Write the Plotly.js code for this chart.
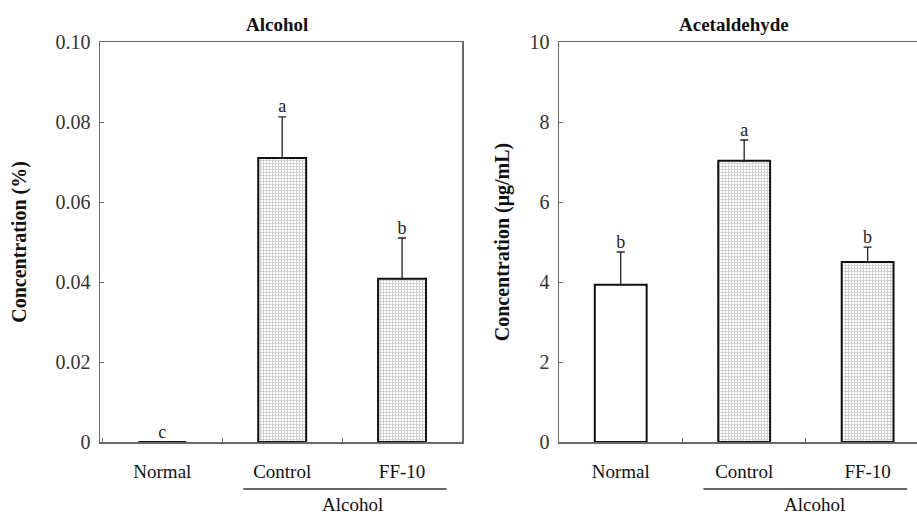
<!DOCTYPE html>
<html>
<head>
<meta charset="utf-8">
<script src="https://cdn.plot.ly/plotly-3.0.1.min.js"></script>
<style>html,body{margin:0;padding:0;background:#fff;}#chart{width:917px;height:515px;}</style>
</head>
<body>
<div id="chart"></div>
<script>
// Data
const categories = ["Normal", "Control", "FF-10"];
const alcoholValues = [0, 0.071, 0.0408];
const alcoholErrors = [0, 0.0103, 0.0102];
const alcoholLetters = ["c", "a", "b"];
const acetValues = [3.93, 7.03, 4.5];
const acetErrors = [0.82, 0.52, 0.37];
const acetLetters = ["b", "a", "b"];
const groupLabel = "Alcohol";
const titleLeft = "Alcohol";
const titleRight = "Acetaldehyde";
const yTitleLeft = "Concentration (%)";
const yTitleRight = "Concentration (μg/mL)";

const serif = "'Liberation Serif'";
const axisColor = "#6a6a6a";
const fills = ["#ffffff", "#cccccc", "#cccccc"];
const pat = {shape: ["", "+", "+"], fgcolor: "#777777", bgcolor: "#dedede", size: 3, solidity: 0.5};

function tops(v, e) { return v.map((x, i) => x + e[i]); }

const traces = [
  {
    type: "bar", x: categories, y: alcoholValues, xaxis: "x", yaxis: "y", width: 0.4,
    marker: {color: fills, line: {color: "#111", width: 2}, pattern: pat},
    error_y: {type: "data", array: alcoholErrors, arrayminus: [0, 0, 0], symmetric: false, color: "#222", thickness: 1.3, width: 4},
    showlegend: false, hoverinfo: "none"
  },
  {
    type: "scatter", mode: "text", x: categories, y: tops(alcoholValues, alcoholErrors), text: alcoholLetters,
    textposition: "top center", textfont: {family: serif, size: 18, color: "#222"},
    xaxis: "x", yaxis: "y", showlegend: false, hoverinfo: "none", cliponaxis: false
  },
  {
    type: "bar", x: categories, y: acetValues, xaxis: "x2", yaxis: "y2", width: 0.42,
    marker: {color: fills, line: {color: "#111", width: 2}, pattern: pat},
    error_y: {type: "data", array: acetErrors, arrayminus: [0, 0, 0], symmetric: false, color: "#222", thickness: 1.3, width: 4},
    showlegend: false, hoverinfo: "none"
  },
  {
    type: "scatter", mode: "text", x: categories, y: tops(acetValues, acetErrors), text: acetLetters,
    textposition: "top center", textfont: {family: serif, size: 18, color: "#222"},
    xaxis: "x2", yaxis: "y2", showlegend: false, hoverinfo: "none", cliponaxis: false
  }
];

const yDom = [73/515, 473/515];
const xCommon = {
  type: "category", showgrid: false, zeroline: false, showline: true, linecolor: axisColor, linewidth: 1.5,
  ticks: "inside", tickson: "boundaries", ticklen: 4, tickcolor: axisColor,
  tickfont: {family: serif, size: 19, color: "#111"}, ticklabelstandoff: 12, fixedrange: true
};
const yCommon = {
  showgrid: false, zeroline: false, showline: true, linecolor: axisColor, linewidth: 1.5,
  ticks: "inside", ticklen: 4, tickcolor: axisColor, ticklabelstandoff: 4,
  tickfont: {family: serif, size: 20, color: "#333"}, fixedrange: true
};

const layout = {
  width: 917, height: 515, margin: {l: 0, r: 0, t: 0, b: 0},
  paper_bgcolor: "#fff", plot_bgcolor: "#fff",
  xaxis: Object.assign({}, xCommon, {domain: [100/917, 462/917], range: [-0.52, 2.5], mirror: true, anchor: "y"}),
  yaxis: Object.assign({}, yCommon, {domain: yDom, range: [0, 0.1], tickvals: [0, 0.02, 0.04, 0.06, 0.08, 0.1],
    ticktext: ["0", "0.02", "0.04", "0.06", "0.08", "0.10"], mirror: true, anchor: "x",
    title: {text: yTitleLeft, font: {family: serif, size: 20, color: "#111", weight: "bold"}, standoff: 23}}),
  xaxis2: Object.assign({}, xCommon, {domain: [559/917, 1], range: [-0.5, 2.4], mirror: true, anchor: "y2"}),
  yaxis2: Object.assign({}, yCommon, {domain: yDom, range: [0, 10], tickvals: [0, 2, 4, 6, 8, 10], anchor: "x2",
    title: {text: yTitleRight, font: {family: serif, size: 20, color: "#111", weight: "bold"}, standoff: 14}}),
  shapes: [
    {type: "line", xref: "x", yref: "paper", x0: 0.675, x1: 2.37, y0: 26/515, y1: 26/515, line: {color: "#333", width: 1.5}},
    {type: "line", xref: "x2", yref: "paper", x0: 0.67, x1: 2.32, y0: 26/515, y1: 26/515, line: {color: "#333", width: 1.5}}
  ],
  annotations: [
    {xref: "x", yref: "paper", x: 1.59, y: 11/515, yanchor: "middle", text: groupLabel, showarrow: false, font: {family: serif, size: 19, color: "#111"}},
    {xref: "x2", yref: "paper", x: 1.57, y: 11/515, yanchor: "middle", text: groupLabel, showarrow: false, font: {family: serif, size: 19, color: "#111"}},
    {xref: "x", yref: "paper", x: 0.96, y: 490/515, yanchor: "middle", text: "<b>" + titleLeft + "</b>", showarrow: false, font: {family: serif, size: 19, color: "#111"}},
    {xref: "x2", yref: "paper", x: 0.92, y: 490/515, yanchor: "middle", text: "<b>" + titleRight + "</b>", showarrow: false, font: {family: serif, size: 19, color: "#111"}}
  ]
};

Plotly.newPlot("chart", traces, layout, {displayModeBar: false, staticPlot: true});
</script>
</body>
</html>
